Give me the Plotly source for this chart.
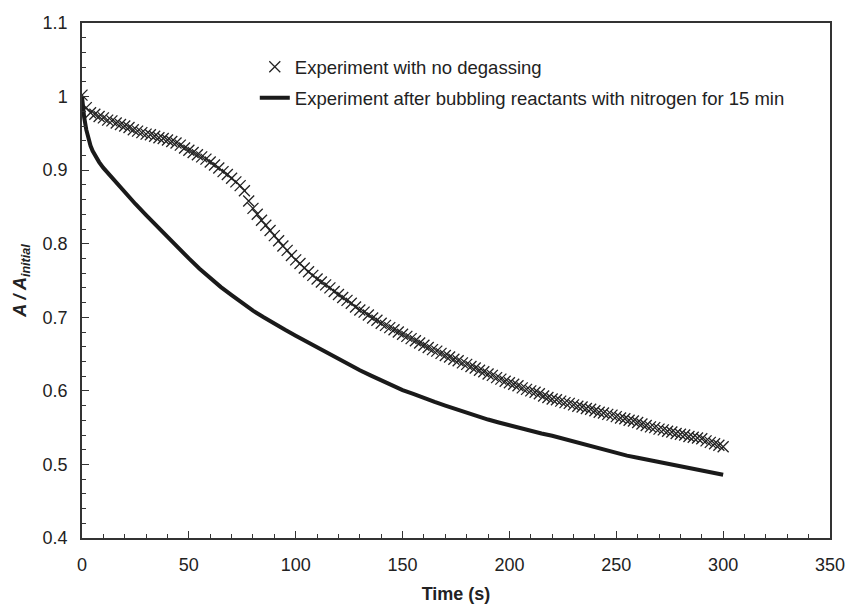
import plotly.graph_objects as go

# Experiment with no degassing (crosses), every 2 s
t_nodegas = list(range(0, 301, 2))
a_nodegas = [
    1.002, 0.985, 0.978, 0.976, 0.973, 0.971, 0.968, 0.967, 0.964, 0.962,
    0.960, 0.958, 0.955, 0.953, 0.951, 0.949, 0.948, 0.946, 0.944, 0.943,
    0.941, 0.939, 0.937, 0.934, 0.930, 0.927, 0.924, 0.921, 0.918, 0.915,
    0.911, 0.907, 0.903, 0.898, 0.894, 0.889, 0.884, 0.879, 0.872, 0.858,
    0.848, 0.840, 0.832, 0.825, 0.818, 0.811, 0.804, 0.797, 0.791, 0.784,
    0.778, 0.773, 0.767, 0.762, 0.757, 0.752, 0.748, 0.744, 0.740, 0.735,
    0.731, 0.727, 0.723, 0.719, 0.714, 0.710, 0.707, 0.703, 0.699, 0.696,
    0.692, 0.689, 0.686, 0.683, 0.680, 0.677, 0.674, 0.671, 0.668, 0.665,
    0.662, 0.659, 0.656, 0.654, 0.651, 0.648, 0.646, 0.643, 0.641, 0.638,
    0.636, 0.633, 0.631, 0.628, 0.626, 0.623, 0.621, 0.618, 0.616, 0.613,
    0.611, 0.609, 0.607, 0.604, 0.602, 0.600, 0.598, 0.596, 0.593, 0.591,
    0.589, 0.588, 0.586, 0.584, 0.583, 0.581, 0.579, 0.578, 0.576, 0.575,
    0.573, 0.571, 0.570, 0.568, 0.567, 0.565, 0.563, 0.562, 0.560, 0.559,
    0.557, 0.555, 0.553, 0.551, 0.550, 0.548, 0.547, 0.545, 0.544, 0.542,
    0.541, 0.540, 0.538, 0.537, 0.536, 0.535, 0.532, 0.530, 0.528, 0.526,
    0.524,
]

# Experiment after bubbling reactants with nitrogen for 15 min (solid line)
t_nitrogen = [0, 0.5, 1, 2, 3, 4, 5, 6, 8, 10, 15, 20, 25, 30, 35, 40, 45, 50,
              55, 60, 65, 70, 75, 80, 85, 90, 95, 100, 105, 110, 115, 120, 125,
              130, 135, 140, 145, 150, 155, 160, 165, 170, 175, 180, 185, 190,
              195, 200, 205, 210, 215, 220, 225, 230, 235, 240, 245, 250, 255,
              260, 265, 270, 275, 280, 285, 290, 295, 300]
a_nitrogen = [1.000, 0.985, 0.972, 0.955, 0.942, 0.933, 0.926, 0.920, 0.911,
              0.903, 0.886, 0.870, 0.854, 0.839, 0.824, 0.809, 0.794, 0.780,
              0.766, 0.753, 0.741, 0.730, 0.719, 0.709, 0.700, 0.691, 0.683,
              0.675, 0.667, 0.659, 0.651, 0.643, 0.636, 0.628, 0.621, 0.614,
              0.607, 0.601, 0.596, 0.590, 0.585, 0.580, 0.575, 0.570, 0.566,
              0.561, 0.557, 0.553, 0.549, 0.546, 0.542, 0.539, 0.535, 0.531,
              0.527, 0.523, 0.519, 0.515, 0.512, 0.509, 0.506, 0.503, 0.500,
              0.498, 0.495, 0.492, 0.489, 0.486]

name_nodegas = "Experiment with no degassing"
name_nitrogen = "Experiment after bubbling reactants with nitrogen for 15 min"

FONT = "Liberation Sans, Arial, sans-serif"

fig = go.Figure()
fig.add_trace(go.Scatter(
    x=t_nodegas, y=a_nodegas, mode="markers", name=name_nodegas,
    legendgroup="a",
    marker=dict(symbol="x-thin", size=11, color="#222",
                line=dict(width=1.3, color="#222")),
))
fig.add_trace(go.Scatter(
    x=t_nitrogen, y=a_nitrogen, mode="lines", name=name_nitrogen,
    legendgroup="b",
    line=dict(color="#1a1a1a", width=4),
))

axis_common = dict(
    showline=True, linecolor="#333", linewidth=1.5, mirror=True,
    ticks="inside", ticklen=7, tickwidth=1.3, tickcolor="#333",
    showgrid=False, zeroline=False, automargin=False,
    tickfont=dict(family=FONT, size=18, color="#222"),
)

fig.update_xaxes(
    range=[0, 350], dtick=50, tick0=0, ticklabelstandoff=10,
    minor=dict(ticks="inside", dtick=10, ticklen=4, tickwidth=1.2, tickcolor="#333", showgrid=False),
    title=dict(text="<b>Time (s)</b>", standoff=13,
               font=dict(family=FONT, size=18, color="#222")),
    **axis_common,
)
fig.update_yaxes(
    range=[0.4, 1.1], dtick=0.1, tick0=0.4, ticklabelstandoff=9,
    minor=dict(ticks="inside", dtick=0.02, ticklen=4, tickwidth=1.2, tickcolor="#333", showgrid=False),
    title=dict(text="<b><i>A / A<sub>initial</sub></i></b>", standoff=11,
               font=dict(family=FONT, size=18, color="#222")),
    **axis_common,
)

fig.update_layout(
    width=847, height=605,
    margin=dict(l=82, r=17, t=23, b=67, autoexpand=False),
    paper_bgcolor="white", plot_bgcolor="white",
    showlegend=True,
    legend=dict(
        x=0.231, y=0.951, xanchor="left", yanchor="top",
        bgcolor="rgba(0,0,0,0)", borderwidth=0,
        font=dict(family=FONT, size=18.5, color="#222"),
        traceorder="grouped", tracegroupgap=4, itemwidth=30,
    ),
)

fig.write_html("out.html")
